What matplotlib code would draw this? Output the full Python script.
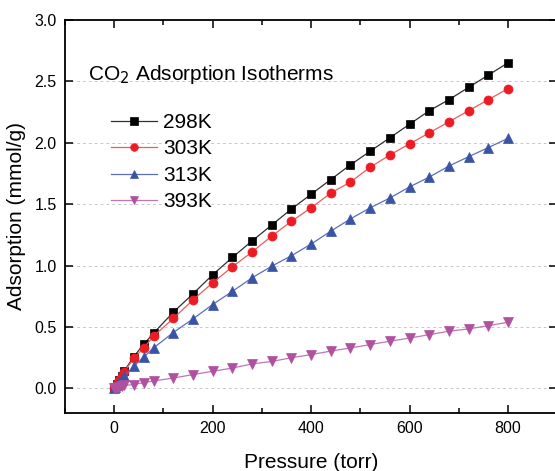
import matplotlib
matplotlib.use("Agg")
import matplotlib.pyplot as plt
from matplotlib.ticker import MultipleLocator

plt.rcParams['font.family'] = ['Liberation Sans', 'DejaVu Sans']

# Pressure points (torr)
pressure = [0.5, 2, 5, 10, 15, 20, 40, 60, 80, 120, 160, 200, 240, 280, 320,
            360, 400, 440, 480, 520, 560, 600, 640, 680, 720, 760, 800]

# CO2 uptake (mmol/g) at each temperature
uptake_298 = [0.005, 0.015, 0.04, 0.07, 0.10, 0.14, 0.26, 0.36, 0.45, 0.62, 0.77,
              0.925, 1.066, 1.20, 1.33, 1.46, 1.58, 1.70, 1.82, 1.93, 2.04, 2.15,
              2.26, 2.35, 2.45, 2.55, 2.65]
uptake_303 = [0.005, 0.015, 0.04, 0.07, 0.10, 0.135, 0.245, 0.33, 0.425, 0.57, 0.72,
              0.86, 0.99, 1.11, 1.24, 1.36, 1.47, 1.59, 1.68, 1.80, 1.90, 1.99,
              2.08, 2.17, 2.26, 2.35, 2.44]
uptake_313 = [0.004, 0.012, 0.03, 0.055, 0.08, 0.10, 0.18, 0.255, 0.33, 0.455, 0.566,
              0.683, 0.79, 0.90, 0.995, 1.08, 1.175, 1.28, 1.38, 1.47, 1.55, 1.64,
              1.72, 1.81, 1.886, 1.96, 2.035]
uptake_393 = [0.001, 0.004, 0.008, 0.015, 0.02, 0.025, 0.032, 0.048, 0.061, 0.085, 0.113,
              0.14, 0.166, 0.20, 0.22, 0.25, 0.276, 0.304, 0.33, 0.357, 0.385, 0.41,
              0.438, 0.466, 0.485, 0.511, 0.539]

labels = ['298K', '303K', '313K', '393K']
series = [uptake_298, uptake_303, uptake_313, uptake_393]
marker_colors = ['#000000', '#ed1c24', '#3a54a5', '#b0519f']
line_colors = ['#303030', '#f05a5a', '#5a6fb8', '#c274b4']
markers = ['s', 'o', '^', 'v']
marker_sizes = [6.0, 6.5, 7.0, 7.0]

fig = plt.figure(figsize=(5.55, 4.71), dpi=100)
ax = fig.add_axes([0.117, 0.123, 0.887, 0.835])

for y, lab, mc, lc, mk, ms in zip(series, labels, marker_colors, line_colors,
                                  markers, marker_sizes):
    ax.plot(pressure, y, color=lc, linewidth=0.9, marker=mk, markersize=ms,
            markerfacecolor=mc, markeredgecolor=mc, markeredgewidth=0.5,
            label=lab)

ax.set_xlim(-100, 900)
ax.set_ylim(-0.2, 3.0)
ax.xaxis.set_minor_locator(MultipleLocator(100))
ax.set_xticks([0, 200, 400, 600, 800])
ax.set_yticks([0.0, 0.5, 1.0, 1.5, 2.0, 2.5, 3.0])
ax.set_yticklabels(['0.0', '0.5', '1.0', '1.5', '2.0', '2.5', '3.0'])

ax.yaxis.grid(True, color='#c8c8c8', linestyle=(0, (3, 3)), linewidth=0.7)
ax.set_axisbelow(True)

ax.tick_params(axis='both', which='major', direction='in', length=6, width=1.1,
               labelsize=11.5, top=True, right=True, pad=6)
ax.tick_params(axis='x', which='minor', direction='in', length=3.5, width=1.1,
               top=True)
for sp in ax.spines.values():
    sp.set_linewidth(1.3)

ax.set_xlabel('Pressure (torr)', fontsize=15, labelpad=12)
ax.set_ylabel('Adsorption (mmol/g)', fontsize=15, labelpad=6)

ax.text(0.047, 0.862, 'CO$_2$ Adsorption Isotherms', transform=ax.transAxes,
        fontsize=15, ha='left', va='center')
ax.legend(loc='upper left', bbox_to_anchor=(0.093, 0.763), frameon=False,
          fontsize=15, handlelength=2.2, handletextpad=0.3, markerscale=0.85,
          labelspacing=0.36, borderaxespad=0, borderpad=0)

fig.savefig('out.png', dpi=100)
